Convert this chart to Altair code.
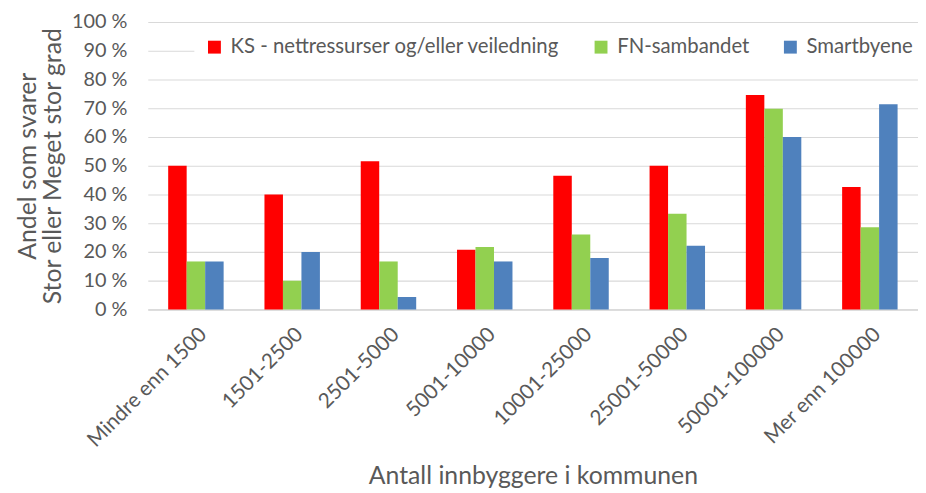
import altair as alt
import pandas as pd

categories = ["Mindre enn 1500", "1501-2500", "2501-5000", "5001-10000",
              "10001-25000", "25001-50000", "50001-100000", "Mer enn 100000"]
series = ["KS - nettressurser og/eller veiledning", "FN-sambandet", "Smartbyene"]
ks = [50.0, 40.0, 51.6, 20.8, 46.5, 50.0, 74.6, 42.6]
fn = [16.7, 10.0, 16.7, 21.7, 26.1, 33.3, 69.8, 28.6]
smart = [16.7, 20.0, 4.3, 16.7, 17.9, 22.2, 60.0, 71.4]
colors = ["#FF0000", "#92D050", "#4F81BD"]

rows = []
for i, c in enumerate(categories):
    for s, vals in zip(series, [ks, fn, smart]):
        rows.append({"kat": c, "serie": s, "verdi": vals[i]})
df = pd.DataFrame(rows)

FONT = "Lato"
GREY = "#595959"

chart = alt.Chart(df).mark_bar().encode(
    x=alt.X("kat:N", sort=categories,
            scale=alt.Scale(paddingInner=0.424, paddingOuter=0.212),
            axis=alt.Axis(title="Antall innbyggere i kommunen", labelAngle=-45,
                          labelFontSize=21, labelColor=GREY, labelFont=FONT,
                          titleFontSize=25, titleColor=GREY, titleFont=FONT,
                          titleFontWeight="normal", titlePadding=13,
                          ticks=False, tickSize=0, labelPadding=14,
                          domainColor="#d9d9d9", domainWidth=1.5)),
    xOffset=alt.XOffset("serie:N", sort=series, scale=alt.Scale(paddingInner=0, paddingOuter=0)),
    y=alt.Y("verdi:Q", scale=alt.Scale(domain=[0, 100], nice=False),
            axis=alt.Axis(title=["Andel som svarer", "Stor eller Meget stor grad"],
                          values=list(range(0, 101, 10)),
                          labelExpr="datum.value + ' %'",
                          labelFontSize=20, labelColor=GREY, labelFont=FONT,
                          titleFontSize=25, titleColor=GREY, titleFont=FONT,
                          titleFontWeight="normal", titlePadding=6, titleLineHeight=25,
                          ticks=False, tickSize=0, labelPadding=21, domain=False,
                          gridColor="#d9d9d9", gridWidth=1.2)),
    color=alt.Color("serie:N", sort=series,
                    scale=alt.Scale(domain=series, range=colors),
                    legend=alt.Legend(title=None, orient="none", direction="horizontal",
                                      legendX=47, legendY=5, symbolType="square",
                                      symbolSize=169, symbolStrokeWidth=0,
                                      labelFontSize=20.5, labelColor=GREY, labelFont=FONT,
                                      columnPadding=31, labelOffset=6, padding=10,
                                      fillColor="white", labelLimit=600)),
).properties(
    width=777, height=290,
    autosize=alt.AutoSizeParams(type="none"),
    padding={"left": 141, "top": 12, "right": 0, "bottom": 180},
).configure_view(stroke=None)

chart.save("out.html", embed_options={"renderer": "svg", "actions": False})
